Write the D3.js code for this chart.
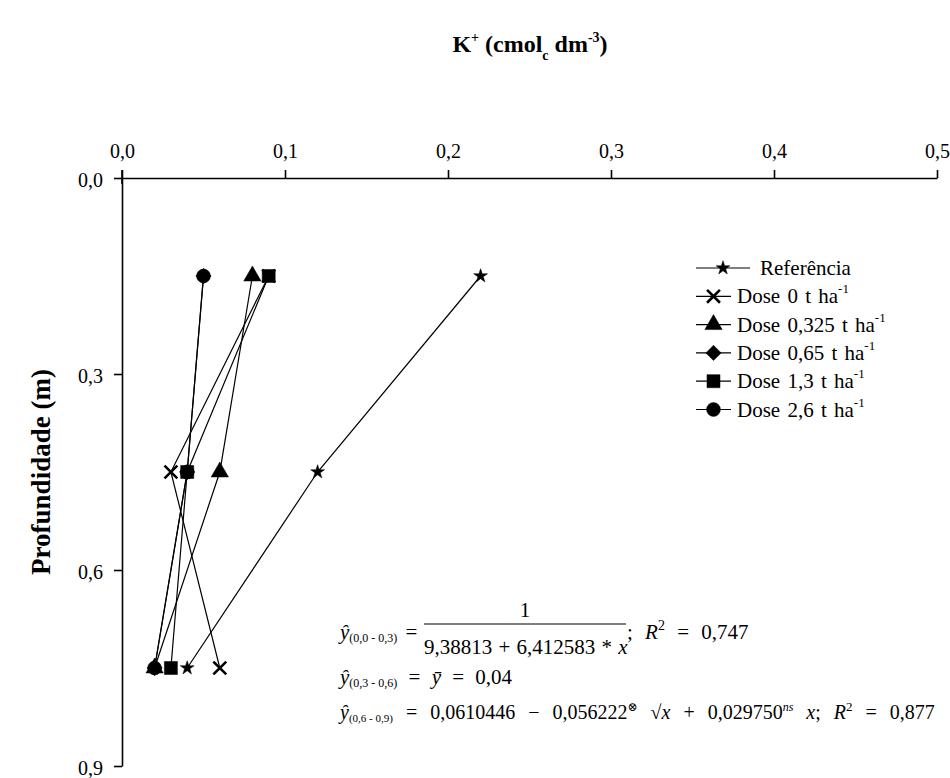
<!DOCTYPE html>
<html>
<head>
<meta charset="utf-8">
<script src="https://cdn.jsdelivr.net/npm/d3@7"></script>
<style>
  body { margin: 0; background: #fff; }
  svg text { font-family: 'Liberation Serif', 'DejaVu Serif', serif; }
</style>
</head>
<body>
<svg id="graph"></svg>
<script>
var width = 950, height = 778;

// profundidade (m) e teores de K+ (cmolc dm-3)
var depths = [0.15, 0.45, 0.75];
var seriesNames = ["Referência", "Dose 0 t ha", "Dose 0,325 t ha", "Dose 0,65 t ha", "Dose 1,3 t ha", "Dose 2,6 t ha"];
var referencia = [0.22, 0.12, 0.04];
var dose0 = [0.09, 0.03, 0.06];
var dose0325 = [0.08, 0.06, 0.02];
var dose065 = [0.05, 0.04, 0.02];
var dose13 = [0.09, 0.04, 0.03];
var dose26 = [0.05, 0.04, 0.02];
var xTicks = [0, 0.1, 0.2, 0.3, 0.4, 0.5];
var yTicks = [0, 0.3, 0.6, 0.9];

var allSeries = [referencia, dose0, dose0325, dose065, dose13, dose26];
var symbols = [d3.symbolStar, d3.symbolTimes, d3.symbolTriangle, d3.symbolDiamond2, d3.symbolSquare, d3.symbolCircle];
var sizes = [60, 110, 130, 150, 170, 150];
var serif = "'Liberation Serif', 'DejaVu Serif', serif";

var svg = d3.select("#graph")
	.attr("width", width)
	.attr("height", height)
	.attr("font-family", serif);

var x = d3.scaleLinear().domain([0, 0.5]).range([122, 937]);
var y = d3.scaleLinear().domain([0, 0.9]).range([178, 766]);
var fmt = d => d3.format(".1f")(d).replace(".", ",");

var xAxis = svg.append("g")
	.attr("transform", "translate(0," + y(0) + ")")
	.call(d3.axisTop(x).tickValues(xTicks).tickFormat(fmt).tickSize(8).tickSizeOuter(0).tickPadding(12));
var yAxis = svg.append("g")
	.attr("transform", "translate(" + x(0) + ",0)")
	.call(d3.axisLeft(y).tickValues(yTicks).tickFormat(fmt).tickSize(8).tickSizeOuter(0).tickPadding(11));
xAxis.attr("font-family", serif);
yAxis.attr("font-family", serif);
svg.selectAll(".tick text").attr("font-size", "20px").attr("fill", "#000");
svg.selectAll(".domain, .tick line").attr("stroke", "#000").attr("stroke-width", 1.6);
yAxis.selectAll(".tick text").attr("dy", "0.4em");
// small tick below x axis origin
svg.append("line").attr("x1", x(0)).attr("x2", x(0)).attr("y1", y(0) - 8).attr("y2", y(0) + 6)
	.attr("stroke", "#000").attr("stroke-width", 1.6);

// title
var title = svg.append("text")
	.attr("x", 530).attr("y", 52)
	.attr("text-anchor", "middle")
	.attr("font-size", "24px").attr("font-weight", "bold");
title.append("tspan").text("K");
title.append("tspan").attr("font-size", "14px").attr("dy", -10).text("+");
title.append("tspan").attr("dy", 10).text(" (cmol");
title.append("tspan").attr("font-size", "14px").attr("dy", 8).text("c");
title.append("tspan").attr("dy", -8).text(" dm");
title.append("tspan").attr("font-size", "14px").attr("dy", -10).text("-3");
title.append("tspan").attr("dy", 10).text(")");

svg.append("text")
	.attr("transform", "translate(50,472) rotate(-90)")
	.attr("text-anchor", "middle")
	.attr("font-size", "27px").attr("font-weight", "bold")
	.text("Profundidade (m)");

// series
var line = d3.line().x(d => x(d[0])).y(d => y(d[1]));
allSeries.forEach(function (vals, i) {
	var pts = vals.map((v, j) => [v, depths[j]]);
	svg.append("path")
		.attr("d", line(pts))
		.attr("fill", "none")
		.attr("stroke", "#000")
		.attr("stroke-width", 1.2);
});
allSeries.forEach(function (vals, i) {
	var stroke = symbols[i] === d3.symbolTimes;
	svg.selectAll(".m" + i)
		.data(vals.map((v, j) => [v, depths[j]]))
		.enter()
		.append("path")
		.attr("transform", d => "translate(" + x(d[0]) + "," + y(d[1]) + ")")
		.attr("d", d3.symbol().type(symbols[i]).size(sizes[i]))
		.attr("fill", stroke ? "none" : "#000")
		.attr("stroke", "#000")
		.attr("stroke-width", stroke ? 2.6 : 0.5);
});

// legend
var legend = svg.append("g");
seriesNames.forEach(function (name, i) {
	var ly = 268 + i * 28.3;
	var x1 = 696, x2 = i == 0 ? 750 : 731, tx = i == 0 ? 760 : 737;
	legend.append("line").attr("x1", x1).attr("x2", x2).attr("y1", ly).attr("y2", ly)
		.attr("stroke", "#000").attr("stroke-width", 1.2);
	var stroke = symbols[i] === d3.symbolTimes;
	legend.append("path")
		.attr("transform", "translate(" + ((x1 + x2) / 2) + "," + ly + ")")
		.attr("d", d3.symbol().type(symbols[i]).size(sizes[i]))
		.attr("fill", stroke ? "none" : "#000")
		.attr("stroke", "#000")
		.attr("stroke-width", stroke ? 2.6 : 0.5);
	var t = legend.append("text").attr("x", tx).attr("y", ly + 7).attr("font-size", "21px")
		.attr("word-spacing", "2px");
	t.append("tspan").text(name);
	if (i > 0) t.append("tspan").attr("font-size", "13px").attr("dy", -10).text("-1");
});

// equations
function eq(parent, xx, yy, size, ws, parts) {
	var t = parent.append("text").attr("x", xx).attr("y", yy).attr("font-size", size + "px")
		.attr("word-spacing", ws + "px");
	parts.forEach(function (p) {
		var s = t.append("tspan").text(p.t);
		if (p.i) s.attr("font-style", "italic");
		if (p.s) s.attr("font-size", p.s + "px");
		if (p.sub) s.attr("word-spacing", "0px");
		if (p.dy) s.attr("dy", p.dy);
	});
	return t;
}
var eqs = svg.append("g");
eq(eqs, 340, 639, 21, 3, [
	{t: "ŷ", i: 1}, {t: "(0,0 - 0,3)", s: 12, dy: 3, sub: 1}, {t: " =", dy: -3}
]);
eqs.append("line").attr("x1", 424).attr("x2", 626).attr("y1", 624).attr("y2", 624)
	.attr("stroke", "#000").attr("stroke-width", 1.2);
eqs.append("text").attr("x", 525).attr("y", 617).attr("text-anchor", "middle").attr("font-size", "21px").text("1");
eq(eqs, 424, 654, 21, 1, [{t: "9,38813 + 6,412583 * "}, {t: "x", i: 1}]);
eq(eqs, 627, 639, 21, 7, [{t: "; "}, {t: "R", i: 1}, {t: "2", s: 14, dy: -9}, {t: " = 0,747", dy: 9}]);
eq(eqs, 340, 684, 21, 6, [
	{t: "ŷ", i: 1}, {t: "(0,3 - 0,6)", s: 12, dy: 3, sub: 1}, {t: " = ", dy: -3}, {t: "ȳ", i: 1}, {t: " = 0,04"}
]);
eq(eqs, 340, 719, 20, 8, [
	{t: "ŷ", i: 1}, {t: "(0,6 - 0,9)", s: 11, dy: 3, sub: 1}, {t: " = 0,0610446 − 0,056222", dy: -3},
	{t: "⊗", s: 12, dy: -8}, {t: " √", dy: 8}, {t: "x", i: 1}, {t: " + 0,029750"},
	{t: "ns", s: 12, i: 1, dy: -8}, {t: " x", i: 1, dy: 8}, {t: "; "}, {t: "R", i: 1},
	{t: "2", s: 13, dy: -8}, {t: " = 0,877", dy: 8}
]);
</script>
</body>
</html>
